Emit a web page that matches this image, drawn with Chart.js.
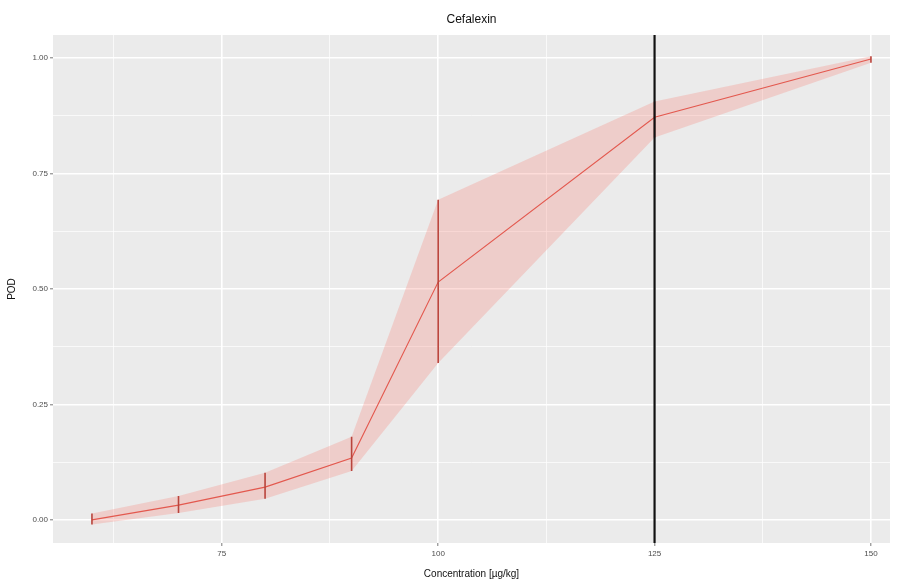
<!DOCTYPE html>
<html>
<head>
<meta charset="utf-8">
<script src="https://cdn.jsdelivr.net/npm/chart.js@4"></script>
<style>
  html, body { margin: 0; padding: 0; background: #fff; }
  #wrap { width: 903px; height: 587px; }
</style>
</head>
<body>
<div id="wrap"><canvas id="podChart" width="903" height="587"></canvas></div>
<script>
'use strict';

// Data
const concentration = [60, 70, 80, 90, 100, 125, 150];
const pod = [0.000, 0.032, 0.071, 0.134, 0.515, 0.872, 0.998];
const podLower = [-0.010, 0.015, 0.046, 0.106, 0.340, 0.828, 0.990];
const podUpper = [0.014, 0.052, 0.102, 0.180, 0.693, 0.906, 1.004];
const cutoff = 125;
const xLabelTicks = [75, 100, 125, 150];
const yLabelTicks = [0, 0.25, 0.5, 0.75, 1];

// Colours
const panelGrey = '#ebebeb';
const lineRed = '#e3584e';
const barRed = '#b9443c';
const ribbonPink = 'rgba(248, 118, 109, 0.26)';

function toPoints(ys){
  return concentration.map((x, i) => ({x: x, y: ys[i]}));
}

// error bars as one broken line: lower, upper, gap
let errorBars = [];
for (let i = 0; i < concentration.length; i++){
  errorBars.push({x: concentration[i], y: podLower[i]});
  errorBars.push({x: concentration[i], y: podUpper[i]});
  errorBars.push({x: concentration[i], y: null});
}

const panelBackground = {
  id: 'panelBackground',
  beforeDraw(chart){
    const {ctx, chartArea} = chart;
    ctx.save();
    ctx.fillStyle = panelGrey;
    ctx.fillRect(chartArea.left, chartArea.top, chartArea.width, chartArea.height);
    ctx.restore();
  }
};

function isMajor(value, list){
  return list.some(v => Math.abs(v - value) < 1e-9);
}

let chartTemplate = {
  type: 'line',
  data: {
    datasets: [
      {
        label: 'cutoff',
        data: [{x: cutoff, y: -0.05}, {x: cutoff, y: 1.05}],
        borderColor: '#111111',
        borderWidth: 2.2,
        pointRadius: 0,
        order: 0
      },
      {
        label: 'error bars',
        data: errorBars,
        borderColor: barRed,
        borderWidth: 1.6,
        pointRadius: 0,
        spanGaps: false,
        order: 1
      },
      {
        label: 'POD',
        data: toPoints(pod),
        borderColor: lineRed,
        borderWidth: 1.1,
        pointRadius: 0,
        order: 2
      },
      {
        label: 'lower',
        data: toPoints(podLower),
        borderWidth: 0,
        borderColor: 'rgba(0,0,0,0)',
        pointRadius: 0,
        order: 3
      },
      {
        label: 'upper',
        data: toPoints(podUpper),
        borderWidth: 0,
        borderColor: 'rgba(0,0,0,0)',
        backgroundColor: ribbonPink,
        fill: 3,
        pointRadius: 0,
        order: 4
      }
    ]
  },
  options: {
    responsive: false,
    animation: false,
    layout: { padding: { left: 0, right: 13, top: 0, bottom: 0 } },
    plugins: {
      legend: { display: false },
      tooltip: { enabled: false },
      title: {
        display: true,
        text: 'Cefalexin',
        fullSize: false,
        color: '#111',
        font: { family: 'Liberation Sans, Arial, sans-serif', size: 12, weight: 'normal' },
        padding: { top: 12, bottom: 8.6 }
      }
    },
    scales: {
      x: {
        type: 'linear',
        min: 55.5,
        max: 152.2,
        ticks: {
          stepSize: 12.5,
          includeBounds: false,
          autoSkip: false,
          maxRotation: 0,
          padding: 3,
          color: '#4d4d4d',
          font: { family: 'Liberation Sans, Arial, sans-serif', size: 8 },
          callback: value => isMajor(value, xLabelTicks) ? String(value) : ''
        },
        grid: {
          color: '#ffffff',
          lineWidth: ctx => isMajor(ctx.tick.value, xLabelTicks) ? 1.6 : 0.7,
          tickColor: ctx => isMajor(ctx.tick.value, xLabelTicks) ? '#555' : 'rgba(0,0,0,0)',
          tickWidth: 0.8,
          tickLength: 3
        },
        border: { display: false },
        title: {
          display: true,
          text: 'Concentration [µg/kg]',
          color: '#111',
          font: { family: 'Liberation Sans, Arial, sans-serif', size: 10 },
          padding: { top: 2, bottom: 7 }
        },
        afterFit: scale => { scale.height = 44; }
      },
      y: {
        type: 'linear',
        min: -0.05,
        max: 1.05,
        ticks: {
          stepSize: 0.125,
          includeBounds: false,
          autoSkip: false,
          padding: 2,
          color: '#4d4d4d',
          font: { family: 'Liberation Sans, Arial, sans-serif', size: 8 },
          callback: value => isMajor(value, yLabelTicks) ? value.toFixed(2) : ''
        },
        grid: {
          color: '#ffffff',
          lineWidth: ctx => isMajor(ctx.tick.value, yLabelTicks) ? 1.6 : 0.7,
          tickColor: ctx => isMajor(ctx.tick.value, yLabelTicks) ? '#555' : 'rgba(0,0,0,0)',
          tickWidth: 0.8,
          tickLength: 3
        },
        border: { display: false },
        title: {
          display: true,
          text: 'POD',
          color: '#111',
          font: { family: 'Liberation Sans, Arial, sans-serif', size: 10 },
          padding: { top: 6, bottom: 4 }
        },
        afterFit: scale => { scale.width = 53; }
      }
    }
  },
  plugins: [panelBackground]
};

new Chart(document.getElementById('podChart'), chartTemplate); // eslint-disable-line
</script>
</body>
</html>
